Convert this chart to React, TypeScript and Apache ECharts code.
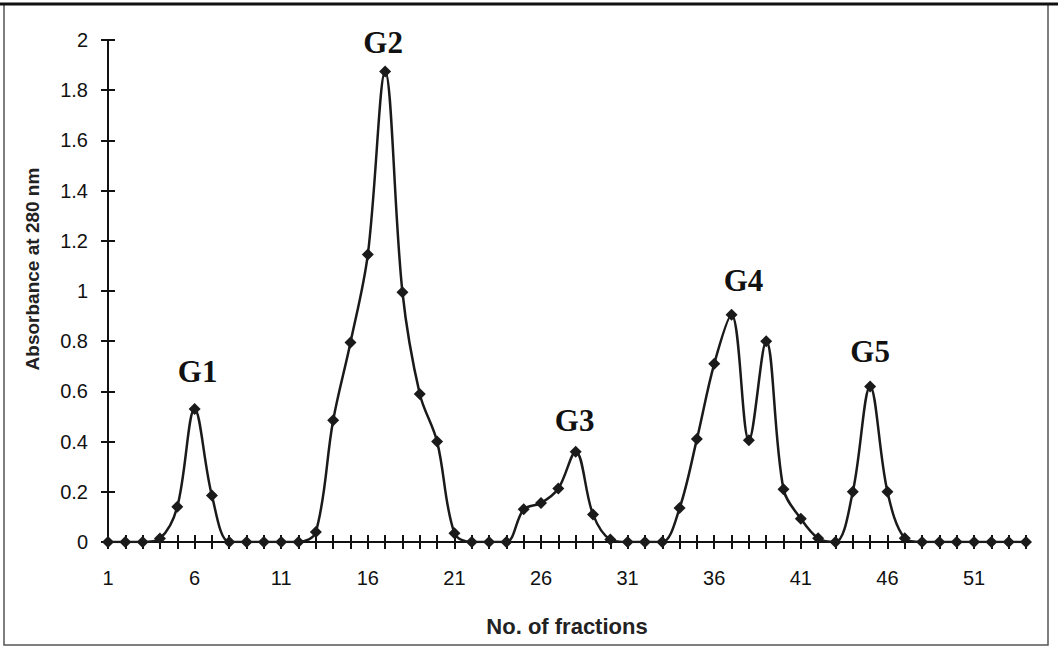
import React, { useEffect, useRef } from "react";
import * as echarts from "echarts";

const fractions: string[] = Array.from({ length: 54 }, (_, i) => String(i + 1));

const absorbance: number[] = [
  0, 0, 0, 0.014, 0.14, 0.53, 0.185, 0, 0, 0,
  0, 0, 0.04, 0.485, 0.795, 1.145, 1.875, 0.995, 0.59, 0.4,
  0.035, 0, 0, 0, 0.13, 0.155, 0.213, 0.36, 0.11, 0.01,
  0, 0, 0, 0.135, 0.41, 0.71, 0.905, 0.405, 0.8, 0.21,
  0.093, 0.015, 0, 0.2, 0.62, 0.2, 0.015, 0, 0, 0,
  0, 0, 0, 0,
];

const peakNames: string[] = ["G1", "G2", "G3", "G4", "G5"];
const peakFractions: number[] = [6, 17, 28, 37, 45];

const yTickMin = 0;
const yTickMax = 2;
const yTickStep = 0.2;

const xAxisTitle = "No. of fractions";
const yAxisTitle = "Absorbance at 280 nm";

export default function App() {
  const ref = useRef<HTMLDivElement>(null);

  useEffect(() => {
    if (!ref.current) return;
    const chart = echarts.init(ref.current, undefined, { renderer: "svg" });

    const labelOffsets: Record<string, number[]> = {
      G1: [3, -6],
      G2: [-2, 3],
      G3: [-1, 0],
      G4: [12, -3],
      G5: [0, -3],
    };

    const data = absorbance.map((v, i) => {
      const idx = peakFractions.indexOf(i + 1);
      if (idx < 0) return v;
      const name = peakNames[idx];
      return {
        value: v,
        label: {
          show: true,
          position: "top",
          distance: 10,
          offset: labelOffsets[name],
          formatter: name,
          fontFamily: "Liberation Serif",
          fontWeight: "bold",
          fontSize: 31,
          color: "#111",
        },
      };
    });

    const axisFont = {
      fontFamily: "Liberation Sans, Arial, sans-serif",
      fontSize: 20,
      color: "#111",
    };

    chart.setOption({
      animation: false,
      backgroundColor: "#ffffff",
      grid: { left: 108, right: 32, top: 40, bottom: 106, containLabel: false },
      xAxis: [
        {
          type: "category",
          data: fractions,
          boundaryGap: false,
          axisLine: { show: true, lineStyle: { color: "#111", width: 2 } },
          axisTick: { show: true, interval: 0, length: 7, lineStyle: { color: "#111", width: 2 } },
          axisLabel: { interval: 4, margin: 26, ...axisFont },
          splitLine: { show: false },
          name: xAxisTitle,
          nameLocation: "middle",
          nameGap: 73,
          nameTextStyle: {
            fontFamily: "Liberation Sans, Arial, sans-serif",
            fontWeight: "bold",
            fontSize: 22,
            color: "#222",
          },
        },
        {
          type: "category",
          data: fractions,
          boundaryGap: false,
          position: "bottom",
          axisLine: { show: false },
          axisTick: { show: true, inside: true, interval: 0, length: 7, lineStyle: { color: "#111", width: 2 } },
          axisLabel: { show: false },
          splitLine: { show: false },
        },
      ],
      yAxis: [
        {
          type: "value",
          min: yTickMin,
          max: yTickMax,
          interval: yTickStep,
          axisLine: { show: true, lineStyle: { color: "#111", width: 2 } },
          axisTick: { show: true, length: 7, lineStyle: { color: "#111", width: 2 } },
          axisLabel: { margin: 20, ...axisFont },
          splitLine: { show: false },
          name: yAxisTitle,
          nameLocation: "middle",
          nameRotate: 90,
          nameGap: 66,
          nameTextStyle: {
            fontFamily: "Liberation Sans, Arial, sans-serif",
            fontWeight: "bold",
            fontSize: 19,
            color: "#222",
            padding: [0, 0, 0, 44],
          },
        },
        {
          type: "value",
          min: yTickMin,
          max: yTickMax,
          interval: yTickStep,
          position: "left",
          axisLine: { show: false },
          axisTick: { show: true, inside: true, length: 7, lineStyle: { color: "#111", width: 2 } },
          axisLabel: { show: false },
          splitLine: { show: false },
        },
      ],
      series: [
        {
          type: "line",
          data,
          xAxisIndex: 0,
          yAxisIndex: 0,
          smooth: 0.35,
          symbol: "diamond",
          symbolSize: 12,
          showAllSymbol: true,
          lineStyle: { color: "#1a1a1a", width: 2.5 },
          itemStyle: { color: "#1a1a1a" },
          z: 5,
        },
      ],
      graphic: [
        {
          type: "rect",
          shape: { x: 4, y: 4, width: 1044, height: 641 },
          style: { fill: "none", stroke: "#555", lineWidth: 1.5 },
          silent: true,
        },
        {
          type: "line",
          shape: { x1: 0, y1: 4, x2: 1058, y2: 4 },
          style: { stroke: "#111", lineWidth: 3 },
          silent: true,
        },
      ],
    });

    return () => chart.dispose();
  }, []);

  return (
    <div
      ref={ref}
      style={{ position: "fixed", left: 0, top: 0, width: 1058, height: 648 }}
    />
  );
}
